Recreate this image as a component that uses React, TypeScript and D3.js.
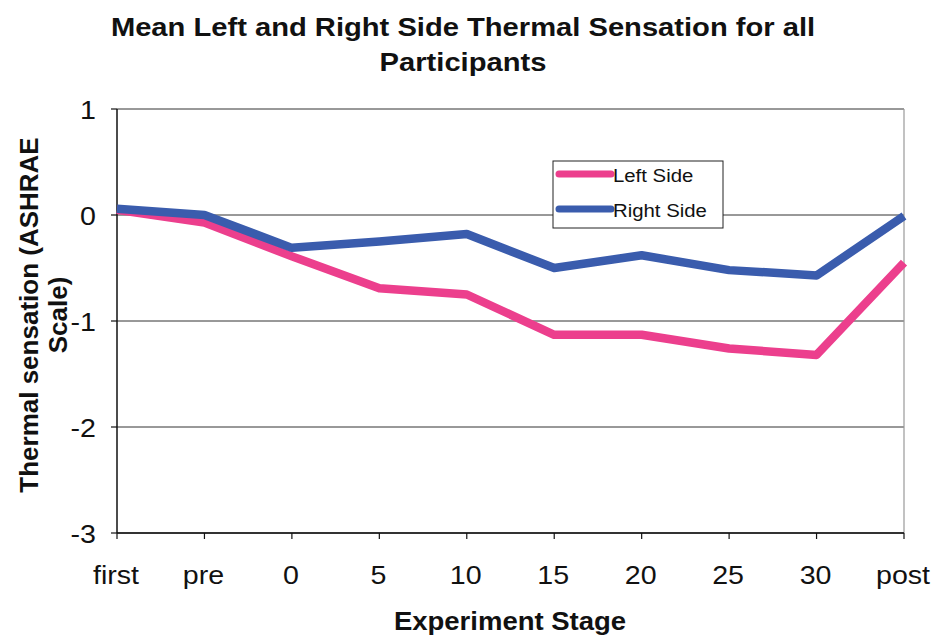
import React from "react";
import * as d3 from "d3";

const stages = ["first", "pre", "0", "5", "10", "15", "20", "25", "30", "post"];
const leftSide = [0.05, -0.07, -0.39, -0.69, -0.75, -1.13, -1.13, -1.26, -1.32, -0.45];
const rightSide = [0.06, 0.0, -0.31, -0.25, -0.18, -0.5, -0.38, -0.52, -0.57, -0.01];
const yTicks = [1, 0, -1, -2, -3];

const W = 936;
const H = 639;
const M = { left: 117, right: 904, top: 109, bottom: 533 };
const FONT = "Liberation Sans, Arial, sans-serif";
const PINK = "#EC3F8D";
const BLUE = "#3A5CAD";
const SX = 1.1; // glyphs are drawn slightly wide

type TProps = {
  x: number;
  y: number;
  size: number;
  anchor?: "start" | "middle" | "end";
  bold?: boolean;
  children: React.ReactNode;
};

function T({ x, y, size, anchor = "start", bold = false, children }: TProps) {
  return (
    <text
      transform={`translate(${x},${y}) scale(${SX},1)`}
      textAnchor={anchor}
      fontFamily={FONT}
      fontWeight={bold ? "bold" : "normal"}
      fontSize={size}
      fill="#111"
    >
      {children}
    </text>
  );
}

export default function App() {
  const x = d3.scalePoint<string>().domain(stages).range([M.left, M.right]);
  const y = d3.scaleLinear().domain([-3, 1]).range([M.bottom, M.top]);
  const line = d3
    .line<number>()
    .x((_, i) => x(stages[i]) as number)
    .y((d) => y(d));

  const series = [
    { name: "Left Side", values: leftSide, color: PINK },
    { name: "Right Side", values: rightSide, color: BLUE },
  ];

  return (
    <svg width={W} height={H} style={{ position: "absolute", left: 0, top: 0, background: "#fff" }}>
      <rect width={W} height={H} fill="#fff" />
      {/* title */}
      <T x={463} y={36} size={26.5} anchor="middle" bold>
        Mean Left and Right Side Thermal Sensation for all
      </T>
      <T x={463} y={71} size={26.5} anchor="middle" bold>
        Participants
      </T>

      {/* gridlines */}
      {yTicks.map((t) => (
        <line key={t} x1={M.left} x2={M.right} y1={y(t)} y2={y(t)} stroke="#333" strokeWidth={1} />
      ))}
      <line x1={M.right} x2={M.right} y1={M.top} y2={M.bottom} stroke="#999" strokeWidth={1.2} />

      {/* y axis */}
      <line x1={M.left} x2={M.left} y1={M.top} y2={M.bottom} stroke="#111" strokeWidth={1.5} />
      {yTicks.map((t) => (
        <g key={t}>
          <line x1={M.left - 6} x2={M.left} y1={y(t)} y2={y(t)} stroke="#111" strokeWidth={1.2} />
          <T x={M.left - 21} y={y(t) + 10} size={26} anchor="end">
            {t}
          </T>
        </g>
      ))}

      {/* x axis */}
      <line x1={M.left} x2={M.right} y1={M.bottom} y2={M.bottom} stroke="#111" strokeWidth={1.5} />
      {stages.map((s) => (
        <g key={s}>
          <line x1={x(s)} x2={x(s)} y1={M.bottom} y2={M.bottom + 6} stroke="#111" strokeWidth={1.2} />
          <T x={(x(s) as number) - 1} y={584} size={26} anchor="middle">
            {s}
          </T>
        </g>
      ))}

      {/* axis titles */}
      <T x={510} y={630} size={25} anchor="middle" bold>
        Experiment Stage
      </T>
      <g transform="translate(38,315) rotate(-90)">
        <text x={0} y={0} textAnchor="middle" fontFamily={FONT} fontWeight="bold" fontSize={26} fill="#111">
          Thermal sensation (ASHRAE
        </text>
        <text x={0} y={29} textAnchor="middle" fontFamily={FONT} fontWeight="bold" fontSize={26} fill="#111">
          Scale)
        </text>
      </g>

      {/* series */}
      {series.map((s) => (
        <path
          key={s.name}
          d={line(s.values) ?? ""}
          fill="none"
          stroke={s.color}
          strokeWidth={8.5}
          strokeLinejoin="round"
        />
      ))}

      {/* legend */}
      <g>
        <rect x={553} y={161} width={170} height={67} fill="#fff" stroke="#222" strokeWidth={1} />
        {series.map((s, i) => (
          <g key={s.name} transform={`translate(0,${174 + i * 35})`}>
            <line x1={559} x2={611} y1={0} y2={0} stroke={s.color} strokeWidth={7} strokeLinecap="round" />
            <T x={613} y={8} size={18.5}>
              {s.name}
            </T>
          </g>
        ))}
      </g>
    </svg>
  );
}
